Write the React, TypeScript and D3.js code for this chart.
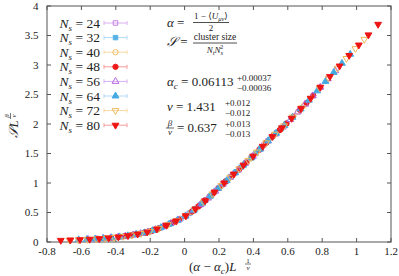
import React from 'react';
import * as d3 from 'd3';

// lattice sizes N_s
const sizes = [24, 32, 40, 48, 56, 64, 72, 80];

// scaled data: x = (alpha - alpha_c) L^{1/nu}, y = S L^{beta/nu}
const x24 = [-0.310, -0.286, -0.262, -0.238, -0.214, -0.190, -0.166, -0.142, -0.118, -0.094, -0.069, -0.045, -0.021, 0.003, 0.027, 0.051, 0.075, 0.099, 0.123, 0.147, 0.172, 0.196, 0.220, 0.244, 0.268, 0.292, 0.316, 0.340, 0.364, 0.388, 0.412, 0.436, 0.461, 0.485];
const y24 = [0.115, 0.127, 0.140, 0.155, 0.171, 0.190, 0.214, 0.240, 0.268, 0.298, 0.329, 0.362, 0.398, 0.435, 0.484, 0.532, 0.590, 0.648, 0.710, 0.772, 0.842, 0.909, 0.974, 1.039, 1.104, 1.168, 1.233, 1.298, 1.363, 1.428, 1.496, 1.568, 1.643, 1.715];

const x32 = [-0.379, -0.350, -0.320, -0.291, -0.261, -0.232, -0.203, -0.173, -0.144, -0.114, -0.085, -0.055, -0.026, 0.004, 0.033, 0.063, 0.092, 0.121, 0.151, 0.180, 0.210, 0.239, 0.269, 0.298, 0.328, 0.357, 0.386, 0.416, 0.445, 0.475, 0.504, 0.534, 0.563, 0.593];
const y32 = [0.087, 0.098, 0.111, 0.125, 0.141, 0.159, 0.178, 0.207, 0.237, 0.273, 0.310, 0.348, 0.391, 0.438, 0.496, 0.561, 0.631, 0.705, 0.783, 0.864, 0.947, 1.025, 1.106, 1.185, 1.266, 1.344, 1.422, 1.508, 1.595, 1.685, 1.770, 1.848, 1.924, 2.010];

const x40 = [-0.444, -0.409, -0.375, -0.340, -0.306, -0.272, -0.237, -0.203, -0.168, -0.134, -0.099, -0.065, -0.030, 0.004, 0.039, 0.073, 0.107, 0.142, 0.176, 0.211, 0.245, 0.280, 0.314, 0.349, 0.383, 0.417, 0.452, 0.486, 0.521, 0.555, 0.590, 0.624, 0.659, 0.693];
const y40 = [0.068, 0.077, 0.089, 0.102, 0.117, 0.135, 0.155, 0.178, 0.212, 0.249, 0.291, 0.335, 0.385, 0.438, 0.508, 0.585, 0.668, 0.759, 0.853, 0.950, 1.041, 1.136, 1.228, 1.322, 1.414, 1.511, 1.616, 1.718, 1.815, 1.904, 2.002, 2.102, 2.207, 2.309];

const x48 = [-0.504, -0.465, -0.426, -0.386, -0.347, -0.309, -0.270, -0.230, -0.191, -0.152, -0.113, -0.074, -0.034, 0.005, 0.044, 0.083, 0.122, 0.161, 0.200, 0.239, 0.279, 0.318, 0.357, 0.396, 0.435, 0.474, 0.513, 0.552, 0.592, 0.631, 0.670, 0.709, 0.748, 0.788];
const y48 = [0.054, 0.063, 0.073, 0.085, 0.099, 0.116, 0.136, 0.160, 0.188, 0.228, 0.274, 0.324, 0.379, 0.440, 0.518, 0.609, 0.707, 0.811, 0.920, 1.025, 1.133, 1.239, 1.344, 1.449, 1.565, 1.682, 1.794, 1.895, 2.008, 2.123, 2.240, 2.359, 2.484, 2.619];

const x56 = [-0.561, -0.517, -0.474, -0.430, -0.386, -0.344, -0.300, -0.256, -0.213, -0.169, -0.125, -0.082, -0.038, 0.005, 0.049, 0.093, 0.136, 0.179, 0.223, 0.266, 0.310, 0.354, 0.397, 0.441, 0.484, 0.527, 0.571, 0.615, 0.658, 0.702, 0.746, 0.789, 0.833, 0.876];
const y56 = [0.045, 0.052, 0.060, 0.071, 0.085, 0.100, 0.120, 0.144, 0.171, 0.211, 0.260, 0.313, 0.373, 0.440, 0.528, 0.633, 0.744, 0.861, 0.982, 1.098, 1.217, 1.336, 1.452, 1.583, 1.712, 1.830, 1.949, 2.075, 2.204, 2.336, 2.477, 2.623, 2.766, 2.903];

const x64 = [-0.616, -0.568, -0.520, -0.473, -0.425, -0.378, -0.330, -0.282, -0.234, -0.186, -0.138, -0.090, -0.042, 0.006, 0.054, 0.102, 0.149, 0.197, 0.245, 0.293, 0.341, 0.389, 0.437, 0.485, 0.532, 0.580, 0.627, 0.675, 0.723, 0.771, 0.819, 0.867, 0.915, 0.963];
const y64 = [0.038, 0.045, 0.052, 0.061, 0.072, 0.088, 0.106, 0.131, 0.157, 0.193, 0.244, 0.303, 0.367, 0.442, 0.540, 0.655, 0.777, 0.912, 1.041, 1.171, 1.301, 1.430, 1.571, 1.715, 1.843, 1.974, 2.111, 2.255, 2.404, 2.561, 2.721, 2.874, 3.028, 3.182];

const x72 = [-0.669, -0.617, -0.565, -0.513, -0.461, -0.410, -0.358, -0.306, -0.254, -0.202, -0.150, -0.098, -0.046, 0.007, 0.059, 0.111, 0.162, 0.214, 0.266, 0.318, 0.370, 0.422, 0.474, 0.526, 0.578, 0.629, 0.681, 0.733, 0.785, 0.837, 0.889, 0.941, 0.993, 1.045];
const y72 = [0.033, 0.038, 0.045, 0.053, 0.063, 0.077, 0.095, 0.117, 0.145, 0.178, 0.230, 0.293, 0.361, 0.444, 0.552, 0.679, 0.814, 0.958, 1.098, 1.239, 1.379, 1.526, 1.682, 1.828, 1.968, 2.117, 2.273, 2.436, 2.612, 2.778, 2.945, 3.111, 3.278, 3.435];

const x80 = [-0.720, -0.664, -0.608, -0.552, -0.496, -0.441, -0.385, -0.329, -0.273, -0.217, -0.161, -0.105, -0.049, 0.007, 0.063, 0.119, 0.174, 0.230, 0.286, 0.342, 0.398, 0.454, 0.510, 0.566, 0.622, 0.677, 0.733, 0.789, 0.845, 0.901, 0.957, 1.013, 1.069, 1.125];
const y80 = [0.028, 0.034, 0.039, 0.047, 0.056, 0.068, 0.085, 0.107, 0.135, 0.168, 0.219, 0.284, 0.357, 0.444, 0.561, 0.699, 0.847, 1.001, 1.152, 1.303, 1.455, 1.622, 1.786, 1.935, 2.096, 2.261, 2.436, 2.623, 2.804, 2.983, 3.162, 3.339, 3.511, 3.690];

const xTicks = [-0.8, -0.6, -0.4, -0.2, 0, 0.2, 0.4, 0.6, 0.8, 1, 1.2];
const xTickLabels = ['-0.8', '-0.6', '-0.4', '-0.2', '0', '0.2', '0.4', '0.6', '0.8', '1', '1.2'];
const yTicks = [0, 0.5, 1, 1.5, 2, 2.5, 3, 3.5, 4];
const yTickLabels = ['0', '0.5', '1', '1.5', '2', '2.5', '3', '3.5', '4'];

const xsList = [x24, x32, x40, x48, x56, x64, x72, x80];
const ysList = [y24, y32, y40, y48, y56, y64, y72, y80];

const styles = [
  { color: '#c47ee8', line: '#dcb0f2', shape: 'square', filled: false },
  { color: '#58b2e6', line: '#b2daf3', shape: 'square', filled: true },
  { color: '#f0bc62', line: '#f6d9a4', shape: 'circle', filled: false },
  { color: '#ee1a1a', line: '#f59a9a', shape: 'circle', filled: true },
  { color: '#b468e0', line: '#d8aef0', shape: 'up', filled: false },
  { color: '#44aae2', line: '#b0d8f2', shape: 'up', filled: true },
  { color: '#f0b85a', line: '#f6d8a2', shape: 'down', filled: false },
  { color: '#ee1414', line: '#f59a9a', shape: 'down', filled: true },
];

const serif = '"Liberation Serif", "DejaVu Serif", serif';

const markerPath = (shape: string) => {
  if (shape === 'square') return d3.symbol().type(d3.symbolSquare).size(20)() as string;
  if (shape === 'circle') return d3.symbol().type(d3.symbolCircle).size(22)() as string;
  return d3.symbol().type(d3.symbolTriangle).size(20)() as string;
};

const Marker: React.FC<{ x: number; y: number; s: typeof styles[number] }> = ({ x, y, s }) => (
  <path
    d={markerPath(s.shape)}
    transform={`translate(${x},${y})${s.shape === 'down' ? ' rotate(180)' : ''}`}
    fill={s.filled ? s.color : 'none'}
    stroke={s.color}
    strokeWidth={1}
  />
);

const App: React.FC = () => {
  const W = 399;
  const H = 276;
  const left = 47, right = 391, top = 6, bottom = 242;
  const x = d3.scaleLinear().domain([-0.8, 1.2]).range([left, right]);
  const y = d3.scaleLinear().domain([0, 4]).range([bottom, top]);
  const axisColor = '#555';

  const legendY0 = 23;
  const legendStep = 14.6;

  return (
    <svg width={W} height={H} style={{ position: 'absolute', left: 0, top: 0, background: '#fff' }} fontFamily={serif}>
      {/* frame */}
      <rect x={left} y={top} width={right - left} height={bottom - top} fill="none" stroke={axisColor} strokeWidth={1} />
      {xTicks.map((t, i) => (
        <g key={'xt' + i}>
          <line x1={x(t)} x2={x(t)} y1={bottom} y2={bottom - 4} stroke={axisColor} />
          <line x1={x(t)} x2={x(t)} y1={top} y2={top + 4} stroke={axisColor} />
          <text x={x(t)} y={255} fontSize={11} textAnchor="middle" fill="#222">{xTickLabels[i]}</text>
        </g>
      ))}
      {yTicks.map((t, i) => (
        <g key={'yt' + i}>
          <line x1={left} x2={left + 4} y1={y(t)} y2={y(t)} stroke={axisColor} />
          <line x1={right} x2={right - 4} y1={y(t)} y2={y(t)} stroke={axisColor} />
          <text x={38.5} y={y(t) + 3.5} fontSize={11} textAnchor="end" fill="#222">{yTickLabels[i]}</text>
        </g>
      ))}

      {/* data */}
      {sizes.map((n, k) => (
        <g key={'s' + n}>
          {xsList[k].map((xv, i) => (
            <Marker key={i} x={x(xv)} y={y(ysList[k][i])} s={styles[k]} />
          ))}
        </g>
      ))}

      {/* legend */}
      {sizes.map((n, k) => {
        const ly = legendY0 + k * legendStep;
        return (
          <g key={'lg' + n}>
            <text x={100} y={ly + 4.5} fontSize={13.5} textAnchor="end" fill="#222">
              <tspan fontStyle="italic">N</tspan>
              <tspan fontSize={9} fontStyle="italic" dy={3}>s</tspan>
              <tspan dy={-3}> = {n}</tspan>
            </text>
            <line x1={104} x2={127} y1={ly} y2={ly} stroke={styles[k].line} strokeWidth={1} />
            <line x1={104} x2={104} y1={ly - 2} y2={ly + 2} stroke={styles[k].line} />
            <line x1={127} x2={127} y1={ly - 2} y2={ly + 2} stroke={styles[k].line} />
            <Marker x={115.5} y={ly} s={styles[k]} />
          </g>
        );
      })}

      {/* annotations */}
      <g fill="#222">
        <text x={167} y={27} fontSize={13}><tspan fontStyle="italic">α</tspan> =</text>
        <text x={211} y={19} fontSize={9} textAnchor="middle">1 − ⟨<tspan fontStyle="italic">U</tspan><tspan fontSize={6.5} fontStyle="italic" dy={2}>μν</tspan><tspan dy={-2}>⟩</tspan></text>
        <line x1={193} x2={229} y1={22.5} y2={22.5} stroke="#222" strokeWidth={0.8} />
        <text x={211} y={31} fontSize={9} textAnchor="middle">2</text>

        <text x={167} y={46} fontSize={13}><tspan fontStyle="italic">𝒮</tspan> =</text>
        <text x={215} y={40} fontSize={9.5} textAnchor="middle">cluster size</text>
        <line x1={193} x2={237} y1={43} y2={43} stroke="#222" strokeWidth={0.8} />
        <text x={215} y={53} fontSize={9} textAnchor="middle"><tspan fontStyle="italic">N</tspan><tspan fontSize={6.5} fontStyle="italic" dy={2}>t</tspan><tspan fontStyle="italic" dy={-2}>N</tspan><tspan fontSize={6.5} fontStyle="italic" dy={2}>s</tspan><tspan fontSize={6.5} dx={-3} dy={-6}>2</tspan></text>

        <text x={167} y={86} fontSize={13}><tspan fontStyle="italic">α</tspan><tspan fontSize={9} fontStyle="italic" dy={3}>c</tspan><tspan dy={-3}> = 0.06113</tspan></text>
        <text x={237} y={81} fontSize={9}>+0.00037</text>
        <text x={237} y={91} fontSize={9}>−0.00036</text>

        <text x={167} y={111} fontSize={13}><tspan fontStyle="italic">ν</tspan> = 1.431</text>
        <text x={225} y={106} fontSize={9}>+0.012</text>
        <text x={225} y={116} fontSize={9}>−0.012</text>

        <text x={170} y={126} fontSize={9} textAnchor="middle" fontStyle="italic">β</text>
        <line x1={166} x2={174} y1={128} y2={128} stroke="#222" strokeWidth={0.7} />
        <text x={170} y={135} fontSize={9} textAnchor="middle" fontStyle="italic">ν</text>
        <text x={177} y={132} fontSize={13}>= 0.637</text>
        <text x={225} y={127} fontSize={9}>+0.013</text>
        <text x={225} y={137} fontSize={9}>−0.013</text>
      </g>

      {/* axis labels */}
      <g fill="#222">
        <text x={189} y={271} fontSize={13} textAnchor="start">
          (<tspan fontStyle="italic">α</tspan> − <tspan fontStyle="italic">α</tspan><tspan fontSize={9} fontStyle="italic" dy={3}>c</tspan><tspan dy={-3}>)</tspan><tspan fontStyle="italic">L</tspan>
        </text>
        <text x={248} y={262.5} fontSize={7} textAnchor="middle">1</text>
        <line x1={245} x2={251} y1={264} y2={264} stroke="#222" strokeWidth={0.6} />
        <text x={248} y={270} fontSize={7} textAnchor="middle" fontStyle="italic">ν</text>

        <g transform="translate(18,126) rotate(-90)">
          <text x={-3} y={0} fontSize={13} textAnchor="middle"><tspan fontStyle="italic">𝒮L</tspan></text>
          <text x={10} y={-9} fontSize={7} textAnchor="middle" fontStyle="italic">β</text>
          <line x1={7} x2={13} y1={-7.5} y2={-7.5} stroke="#222" strokeWidth={0.6} />
          <text x={10} y={-2} fontSize={7} textAnchor="middle" fontStyle="italic">ν</text>
        </g>
      </g>
    </svg>
  );
};

export default App;
